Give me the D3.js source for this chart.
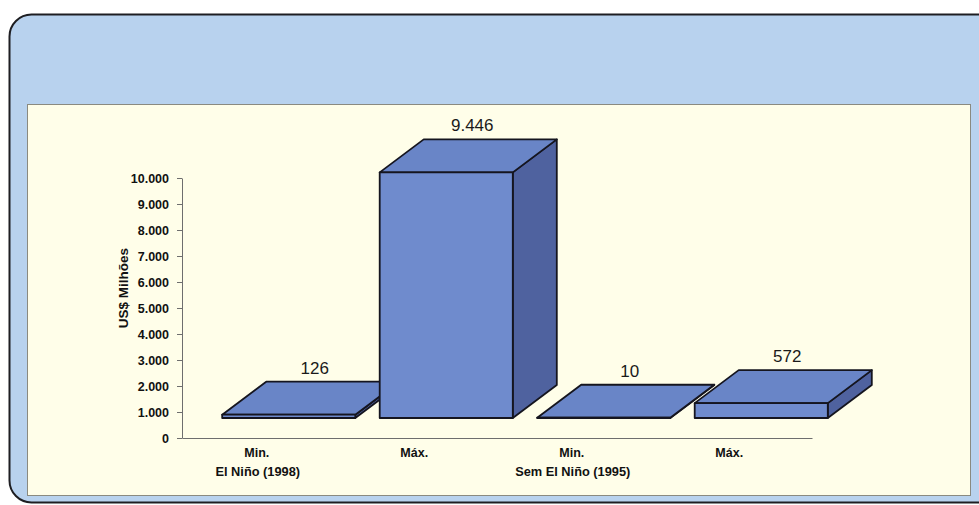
<!DOCTYPE html>
<html>
<head>
<meta charset="utf-8">
<script src="https://cdn.jsdelivr.net/npm/d3@7"></script>
<style>
  html, body { margin: 0; padding: 0; background: #ffffff; }
  svg { display: block; }
</style>
</head>
<body>
<svg id="chart" width="979" height="505"></svg>
<script>
// Economic losses by scenario, US$ millions
const categories = ["Min. 1998", "Máx. 1998", "Min. 1995", "Máx. 1995"];
const categoryLabels = ["Min.", "Máx.", "Min.", "Máx."];
const values = [126, 9446, 10, 572];
const valueLabels = ["126", "9.446", "10", "572"];
const groups = [
  { label: "El Niño (1998)", first: "Min. 1998" },
  { label: "Sem El Niño (1995)", first: "Min. 1995" }
];
const yTicks = [0, 1000, 2000, 3000, 4000, 5000, 6000, 7000, 8000, 9000, 10000];
const yTitle = "US$ Milhões";

const svg = d3.select("#chart");
const font = "Arial, 'Liberation Sans', Helvetica, sans-serif";

// Panels
svg.append("rect")
  .attr("x", 9.5).attr("y", 14.5)
  .attr("width", 990).attr("height", 488)
  .attr("rx", 22).attr("ry", 22)
  .attr("fill", "#b8d2ee")
  .attr("stroke", "#1e1e22").attr("stroke-width", 2);

svg.append("rect")
  .attr("x", 27.5).attr("y", 104.5)
  .attr("width", 943).attr("height", 391)
  .attr("fill", "#fffee9")
  .attr("stroke", "#8a8a80").attr("stroke-width", 1);

// Scales
const x = d3.scaleBand().domain(categories).range([182, 812]);
const y = d3.scaleLinear().domain([0, 10000]).range([438, 178]);

const locale = d3.formatLocale({ decimal: ",", thousands: ".", grouping: [3], currency: ["", ""] });
const fmt = locale.format(",d");

// Y axis
const yAxis = svg.append("g")
  .attr("transform", "translate(182,0)")
  .call(d3.axisLeft(y).tickValues(yTicks).tickFormat(fmt).tickSize(5).tickSizeOuter(0));
yAxis.select(".domain").attr("stroke", "#6e6e6e");
yAxis.selectAll(".tick line").attr("stroke", "#6e6e6e");
yAxis.selectAll(".tick text")
  .attr("x", -13)
  .attr("fill", "#111")
  .style("font-family", font)
  .style("font-size", "12.5px")
  .style("font-weight", "bold");

// X axis line
const xAxis = svg.append("g")
  .attr("transform", "translate(0,438)")
  .call(d3.axisBottom(x).tickSize(0).tickFormat(""));
xAxis.select(".domain").attr("stroke", "#6e6e6e");

// Category labels
svg.append("g").selectAll("text")
  .data(categories)
  .join("text")
  .attr("x", (d) => x(d) + x.bandwidth() / 2 - 4)
  .attr("y", 457)
  .attr("text-anchor", "middle")
  .attr("fill", "#111")
  .style("font-family", font)
  .style("font-size", "12.5px")
  .style("font-weight", "bold")
  .text((d, i) => categoryLabels[i]);

// Group labels
svg.append("g").selectAll("text")
  .data(groups)
  .join("text")
  .attr("x", (d) => x(d.first) + x.bandwidth() / 2 - 3)
  .attr("y", 476)
  .attr("text-anchor", "middle")
  .attr("fill", "#111")
  .style("font-family", font)
  .style("font-size", "12.8px")
  .style("font-weight", "bold")
  .text((d) => d.label);

// Y title
svg.append("text")
  .attr("transform", "translate(128,288) rotate(-90)")
  .attr("text-anchor", "middle")
  .attr("fill", "#111")
  .style("font-family", font)
  .style("font-size", "13.5px")
  .style("font-weight", "bold")
  .text(yTitle);

// 3D bars
const depth = { dx: 44, dy: -33 };
const shift = { dx: 28, dy: -20 };
const barW = x.bandwidth() * 0.845;
const pad = (x.bandwidth() - barW) / 2;

const bars = categories.map((c, i) => {
  const x0 = x(c) + pad + shift.dx;
  const x1 = x0 + barW;
  const yb = y(0) + shift.dy;
  const yt = y(values[i]) + shift.dy;
  return { c, i, x0, x1, yb, yt };
});

const colors = { front: "#6f8bcd", top: "#6985c7", side: "#4f629f", stroke: "#15151f" };

const g = svg.append("g")
  .attr("stroke", colors.stroke)
  .attr("stroke-width", 1.8)
  .attr("stroke-linejoin", "round");

bars.forEach((b) => {
  const { dx, dy } = depth;
  // side face
  g.append("path")
    .attr("d", `M${b.x1},${b.yb}L${b.x1 + dx},${b.yb + dy}L${b.x1 + dx},${b.yt + dy}L${b.x1},${b.yt}Z`)
    .attr("fill", colors.side);
  // top face
  g.append("path")
    .attr("d", `M${b.x0},${b.yt}L${b.x1},${b.yt}L${b.x1 + dx},${b.yt + dy}L${b.x0 + dx},${b.yt + dy}Z`)
    .attr("fill", colors.top);
  // front face
  g.append("rect")
    .attr("x", b.x0).attr("y", b.yt)
    .attr("width", b.x1 - b.x0).attr("height", b.yb - b.yt)
    .attr("fill", colors.front);
});

// Value labels
svg.append("g").selectAll("text")
  .data(bars)
  .join("text")
  .attr("x", (b) => (b.x0 + b.x1) / 2 + depth.dx / 2 + 4)
  .attr("y", (b) => b.yt + depth.dy - 8)
  .attr("text-anchor", "middle")
  .attr("fill", "#1a1a1a")
  .style("font-family", font)
  .style("font-size", "17px")
  .text((b) => valueLabels[b.i]);
</script>
</body>
</html>
